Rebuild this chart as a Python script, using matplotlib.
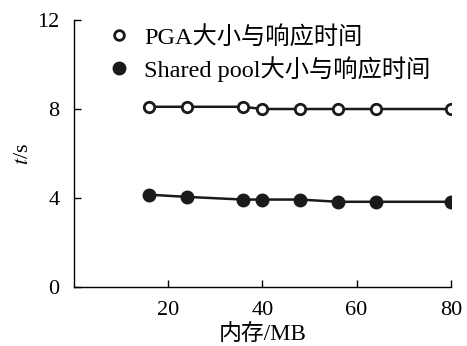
import matplotlib
matplotlib.use('Agg')
import matplotlib.pyplot as plt
from matplotlib.lines import Line2D

# memory size (MB) and response time (s)
memory = [16, 24, 36, 40, 48, 56, 64, 80]
pga_time = [8.1, 8.1, 8.1, 8.0, 8.0, 8.0, 8.0, 8.0]
pool_time = [4.15, 4.05, 3.93, 3.93, 3.93, 3.83, 3.83, 3.83]

pga_label = 'PGA大小与响应时间'
pool_label = 'Shared pool大小与响应时间'
x_ticks = [20, 40, 60, 80]
y_ticks = [0, 4, 8, 12]

plt.rcParams['font.family'] = ['Liberation Serif', 'Noto Sans CJK SC']
plt.rcParams['mathtext.fontset'] = 'stix'

fig = plt.figure(figsize=(4.67, 3.46), dpi=100)
ax = fig.add_axes([73.5 / 467, 59 / 346, (451 - 73.5) / 467, (287 - 20) / 346])

ink = '#1a1a1a'
ax.plot(memory, pga_time, color=ink, lw=1.8, marker='o', ms=7.5,
        mfc='white', mec=ink, mew=2.0)
ax.plot(memory, pool_time, color=ink, lw=1.8, marker='o', ms=9,
        mfc=ink, mec=ink)

ax.set_xlim(0, 80)
ax.set_ylim(0, 12)
ax.set_xticks(x_ticks)
ax.set_yticks(y_ticks)
ax.spines['top'].set_visible(False)
ax.spines['right'].set_visible(False)
for s in ('left', 'bottom'):
    ax.spines[s].set_linewidth(1.0)
ax.tick_params(direction='in', length=5, width=1.0, labelsize=16, pad=10)

ax.set_xlabel('内存/MB', fontsize=16.5, labelpad=3)
ax.set_ylabel('$t$/s', fontsize=16, labelpad=3)

# legend shows markers only
handles = [
    Line2D([], [], ls='none', marker='o', ms=7, mfc='white', mec=ink, mew=2.0),
    Line2D([], [], ls='none', marker='o', ms=9, mfc=ink, mec=ink),
]
ax.legend(handles, [pga_label, pool_label], loc='upper left',
          bbox_to_anchor=(0.03, 1.06), frameon=False, fontsize=17.5,
          handlelength=1.0, handletextpad=0.55, labelspacing=0.3)

fig.savefig('out.png', dpi=100)
